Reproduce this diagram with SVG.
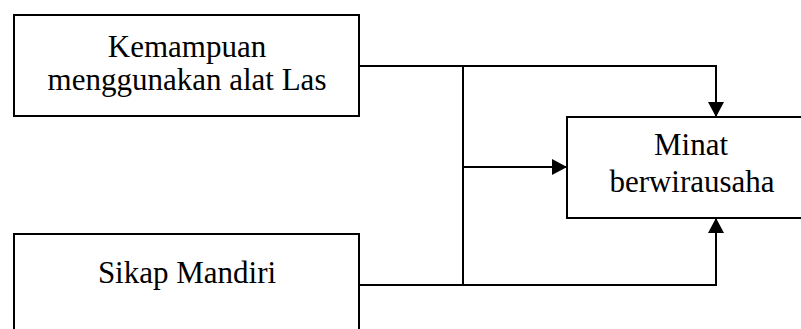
<svg xmlns="http://www.w3.org/2000/svg" width="801" height="329" viewBox="0 0 801 329">
  <style>
    .box { fill: #ffffff; stroke: #000000; stroke-width: 2; }
    .label { font-family: "Liberation Serif", "Times New Roman", serif; font-size: 31px; fill: #000000; text-anchor: middle; }
    .wire { fill: none; stroke: #000000; stroke-width: 2; }
  </style>
  <defs>
    <marker id="arrow" markerUnits="userSpaceOnUse" markerWidth="16" markerHeight="16" refX="15" refY="8" orient="auto">
      <path d="M0,0 L15,8 L0,16 Z" fill="#000000"/>
    </marker>
  </defs>
  <rect width="801" height="329" fill="#ffffff"/>

  <g id="node-kemampuan">
    <rect class="box" x="14" y="15" width="345" height="101"/>
    <text class="label" x="187" y="57">Kemampuan</text>
    <text class="label" x="187" y="90">menggunakan alat Las</text>
  </g>

  <g id="node-sikap">
    <rect class="box" x="14" y="234" width="345" height="110"/>
    <text class="label" x="187" y="283">Sikap Mandiri</text>
  </g>

  <g id="node-minat">
    <rect class="box" x="567" y="117" width="250" height="101"/>
    <text class="label" x="691" y="155">Minat</text>
    <text class="label" x="692" y="192">berwirausaha</text>
  </g>

  <g id="connectors">
    <polyline class="wire" points="359,66 716,66 716,117" marker-end="url(#arrow)"/>
    <polyline class="wire" points="359,285 716,285 716,218" marker-end="url(#arrow)"/>
    <line class="wire" x1="463" y1="66" x2="463" y2="285"/>
    <line class="wire" x1="463" y1="167" x2="567" y2="167" marker-end="url(#arrow)"/>
  </g>
</svg>
